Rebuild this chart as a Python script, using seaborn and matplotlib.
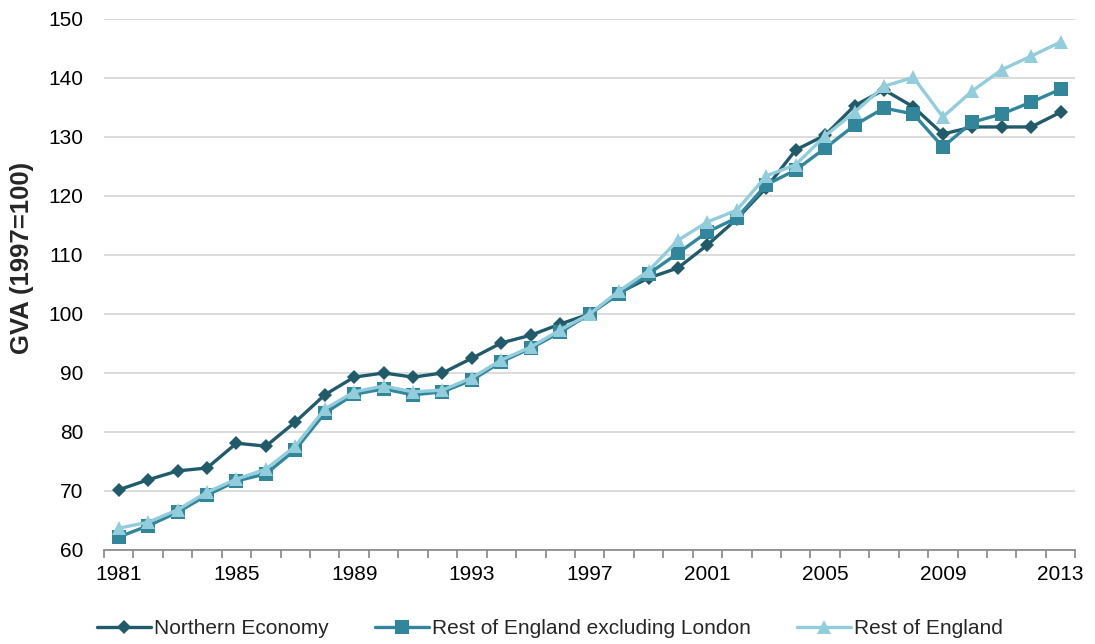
import matplotlib
matplotlib.use("Agg")
import matplotlib.pyplot as plt
from matplotlib.ticker import FixedLocator, NullFormatter
import seaborn as sns
import pandas as pd

years = list(range(1981, 2014))

northern_economy = [70.2, 71.9, 73.4, 73.9, 78.1, 77.6, 81.7, 86.3, 89.3, 90.0,
                    89.3, 90.0, 92.5, 95.1, 96.4, 98.3, 100.0, 103.6, 106.1, 107.8,
                    111.7, 116.1, 121.4, 127.8, 130.3, 135.3, 138.0, 135.1, 130.5, 131.7,
                    131.7, 131.7, 134.2]

rest_excl_london = [62.2, 64.1, 66.4, 69.3, 71.7, 72.9, 77.0, 83.2, 86.4, 87.3,
                    86.3, 86.8, 88.8, 91.9, 94.2, 96.9, 100.0, 103.4, 106.8, 110.3,
                    113.9, 116.3, 121.9, 124.4, 128.1, 132.0, 134.9, 133.9, 128.3, 132.5,
                    133.9, 135.9, 138.1]

rest_of_england = [63.7, 64.7, 66.8, 69.8, 72.0, 73.7, 77.6, 83.9, 86.8, 87.8,
                   86.8, 87.1, 89.2, 92.2, 94.4, 97.3, 100.0, 103.9, 107.3, 112.5,
                   115.6, 117.6, 123.4, 125.3, 130.2, 134.2, 138.6, 140.1, 133.4, 137.8,
                   141.4, 143.7, 146.1]

series_names = ["Northern Economy", "Rest of England excluding London", "Rest of England"]
x_labels = [1981, 1985, 1989, 1993, 1997, 2001, 2005, 2009, 2013]

df = pd.DataFrame({
    "Year": years * 3,
    "GVA": northern_economy + rest_excl_london + rest_of_england,
    "Series": [series_names[0]] * len(years) + [series_names[1]] * len(years)
              + [series_names[2]] * len(years),
})

sns.set_theme(style="white")
plt.rcParams["font.family"] = ["Liberation Sans", "DejaVu Sans"]

palette = {series_names[0]: "#215B6A",
           series_names[1]: "#31869B",
           series_names[2]: "#92CDDC"}
markers = {series_names[0]: "D",
           series_names[1]: "s",
           series_names[2]: "^"}
sizes = {series_names[0]: 7.5, series_names[1]: 10.5, series_names[2]: 10.5}

fig = plt.figure(figsize=(10.95, 6.44), dpi=100)
ax = fig.add_axes([0.095, 0.146, 0.887, 0.8245])

for name in series_names:
    sns.lineplot(data=df[df["Series"] == name], x="Year", y="GVA",
                 color=palette[name], marker=markers[name],
                 markersize=sizes[name], markeredgewidth=0,
                 linewidth=2.4, label=name, ax=ax, zorder=3)

ax.set_xlim(1980.5, 2013.5)
ax.set_ylim(60, 150)
ax.set_yticks(range(60, 151, 10))
ax.yaxis.grid(True, color="#D9D9D9", linewidth=1.3)
ax.xaxis.grid(False)

# year labels every four years, boundary tick marks between every year
ax.set_xticks(x_labels)
ax.xaxis.set_minor_locator(FixedLocator([y - 0.5 for y in years] + [2013.5]))
ax.xaxis.set_minor_formatter(NullFormatter())
ax.tick_params(axis="x", which="major", length=0, labelsize=15, pad=11, colors="black")
ax.tick_params(axis="x", which="minor", length=6, width=1.2, color="#868686",
               direction="out", bottom=True)
ax.tick_params(axis="y", length=0, labelsize=15, pad=15, colors="black")

for side in ["top", "right", "left"]:
    ax.spines[side].set_visible(False)
ax.spines["bottom"].set_color("#868686")
ax.spines["bottom"].set_linewidth(1.2)

ax.set_xlabel("")
ax.set_ylabel("GVA (1997=100)", fontsize=18.5, fontweight="bold")
ax.yaxis.set_label_coords(-0.072, 0.55)

ax.legend(loc="upper center", bbox_to_anchor=(0.459, -0.095), ncol=3,
          frameon=False, fontsize=15, handlelength=2.6, handletextpad=0.15,
          columnspacing=2.2)

fig.savefig("out.png", dpi=100)
